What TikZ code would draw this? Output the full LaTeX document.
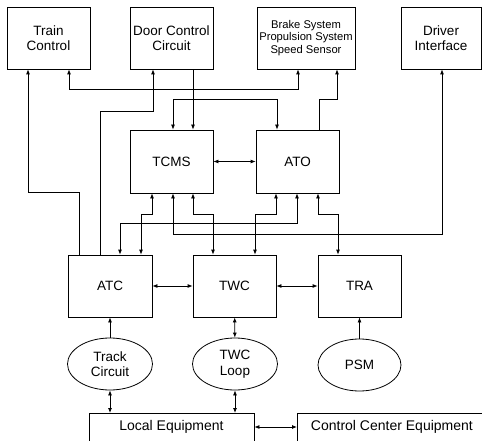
\documentclass[tikz,border=0pt]{standalone}
\usepackage{fontspec}
\setmainfont{Liberation Sans}
\usetikzlibrary{arrows.meta,positioning,calc,shapes.geometric}
\tikzset{
  >={Latex[length=5pt,width=4pt]},
  unit/.style={
    rectangle, draw, line width=0.8pt, minimum width=83pt, minimum height=62pt,
    align=center, inner sep=0pt, font=\fontsize{13.5}{15.5}\selectfont
  },
  bigunit/.style={unit, minimum width=98pt, font=\fontsize{11.2}{12.5}\selectfont},
  ground/.style={
    rectangle, draw, line width=0.8pt, inner xsep=0pt, inner ysep=5pt,
    text height=12pt, text depth=24pt, font=\fontsize{14}{16}\selectfont
  },
  source/.style={
    ellipse, draw, line width=0.8pt, minimum width=85pt, minimum height=52pt,
    inner sep=0pt, align=center, font=\fontsize{13.5}{15.5}\selectfont
  },
  link/.style={draw, line width=0.8pt}
}

\begin{document}
\begin{tikzpicture}[x=1pt,y=-1pt]
\useasboundingbox (0,0) rectangle (482,441);
\clip (0,0) rectangle (482,441);
% top row
\node[unit] (train) at (48.5,38) {Train\\Control};
\node[unit] (door) at (171.5,38) {Door Control\\Circuit};
\node[bigunit] (brake) at (306,38) {Brake System\\Propulsion System\\Speed Sensor};
\node[unit, minimum width=80pt] (driver) at (441,38) {Driver\\Interface};
% middle
\node[unit, minimum height=63pt] (tcms) at (171.5,161.5) {TCMS};
\node[unit, minimum height=63pt] (ato) at (297.5,161.5) {ATO};
\node[unit, minimum width=84pt] (atc) at (110,286) {ATC};
\node[unit] (twc) at (234.5,286) {TWC};
\node[unit] (tra) at (359.5,286) {TRA};
% wayside
\node[source] (track) at (110,364) {Track\\Circuit};
\node[source] (loop) at (235,364) {TWC\\Loop};
\node[source, minimum width=83pt] (psm) at (359.5,365) {PSM};
\node[ground, anchor=north, minimum width=165pt] (local) at (171.5,413) {Local Equipment};
\node[ground, anchor=north west, minimum width=189pt] (control) at (297,413) {Control Center Equipment};

% links above TCMS / ATO
\draw[link,<->] ($(train.south)+(20.5,0)$) -- ++(0,20) -| ($(brake.south)+(-8,0)$);
\draw[link,->] ($(door.south)+(21.5,0)$) -- ($(tcms.north)+(21.5,0)$);
\draw[link,<->] ($(tcms.north)+(1.5,0)$) -- ++(0,-30) -| ($(ato.north)+(-20.5,0)$);
\draw[link,->] ($(ato.north)+(21.5,0)$) -- ++(0,-30) -| ($(brake.south)+(31,0)$);
\draw[link,->] ($(atc.north)+(-31,0)$) -- ++(0,-62) -| ($(train.south)+(-20.5,0)$);
\draw[link,->] ($(atc.north)+(-10,0)$) -- ++(0,-143) -| ($(door.south)+(-18.5,0)$);
\draw[link,<->] (tcms) -- (ato);

% links below TCMS / ATO
\draw[link,<->] ($(tcms.south)+(-19.5,0)$) -- ++(0,21) -| ($(atc.north)+(31,0)$);
\draw[link,<->] ($(tcms.south)+(1.5,0)$) -- ++(0,41) -| ($(driver.south)+(1,0)$);
\draw[link,<->] ($(tcms.south)+(21.5,0)$) -- ++(0,21) -| ($(twc.north)+(-21.5,0)$);
\draw[link,<->] ($(ato.south)+(-0.5,0)$) -- ++(0,30) -| ($(atc.north)+(10,0)$);
\draw[link,<->] ($(ato.south)+(-21.5,0)$) -- ++(0,21) -| ($(twc.north)+(20.5,0)$);
\draw[link,<->] ($(ato.south)+(20.5,0)$) -- ++(0,21) -| ($(tra.north)+(-21.5,0)$);
\draw[link,<->] (atc) -- (twc);
\draw[link,<->] (twc) -- (tra);

% wayside links
\draw[link,->] (track) -- (atc);
\draw[link,<->] (loop) -- (twc);
\draw[link,->] (psm) -- (tra);
\draw[link,<->] (track.south) -- (track.south |- local.north);
\draw[link,<->] (loop.south) -- (loop.south |- local.north);
\draw[link,<->] ($(local.north east)+(0,14)$) -- ($(control.north west)+(0,14)$);
\end{tikzpicture}
\end{document}
